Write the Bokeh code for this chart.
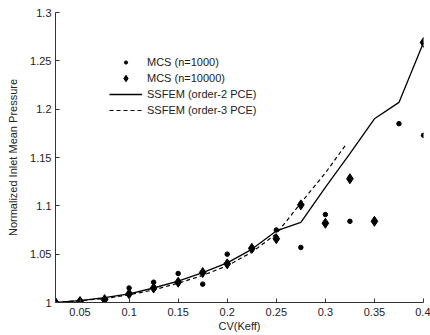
from bokeh.plotting import figure
from bokeh.models import Range1d, Legend, LegendItem, FixedTicker
from bokeh.embed import file_html
from bokeh.resources import INLINE

# --- data ---
cv = [0.025, 0.05, 0.075, 0.1, 0.125, 0.15, 0.175, 0.2, 0.225, 0.25, 0.275, 0.3, 0.325, 0.35, 0.375, 0.4]
ssfem2 = [1.000, 1.002, 1.005, 1.009, 1.015, 1.022, 1.031, 1.041, 1.055, 1.074, 1.083, 1.119, 1.154, 1.190, 1.207, 1.269]

cv3 = [0.025, 0.05, 0.075, 0.1, 0.125, 0.15, 0.175, 0.2, 0.225, 0.25, 0.275, 0.3, 0.32]
ssfem3 = [1.000, 1.002, 1.004, 1.008, 1.013, 1.020, 1.028, 1.038, 1.052, 1.071, 1.103, 1.134, 1.162]

cv_mcs1k = [0.025, 0.05, 0.075, 0.1, 0.125, 0.15, 0.175, 0.2, 0.225, 0.25, 0.275, 0.3, 0.325, 0.375, 0.4]
mcs1k = [1.000, 1.002, 1.003, 1.015, 1.021, 1.030, 1.019, 1.050, 1.055, 1.075, 1.057, 1.091, 1.084, 1.185, 1.173]

cv_mcs10k = [0.025, 0.05, 0.075, 0.1, 0.125, 0.15, 0.175, 0.2, 0.225, 0.25, 0.275, 0.3, 0.325, 0.35, 0.4]
mcs10k = [1.000, 1.001, 1.003, 1.009, 1.015, 1.021, 1.031, 1.040, 1.056, 1.066, 1.101, 1.082, 1.128, 1.084, 1.269]

x_ticks = [0.05, 0.1, 0.15, 0.2, 0.25, 0.3, 0.35, 0.4]
y_ticks = [1.0, 1.05, 1.1, 1.15, 1.2, 1.25, 1.3]

FONT = "Liberation Sans"
TXT = "#222222"

p = figure(width=430, height=335, output_backend="svg", toolbar_location=None,
           x_range=Range1d(0.025, 0.4), y_range=Range1d(1.0, 1.3),
           min_border_left=55, min_border_right=7, min_border_top=12, min_border_bottom=33)
p.outline_line_color = None
p.grid.visible = False
p.background_fill_color = "white"
p.border_fill_color = "white"

r2 = p.line(cv, ssfem2, line_color="black", line_width=1.3)
r3 = p.line(cv3, ssfem3, line_color="black", line_width=1.2, line_dash="4 3")
rd = p.scatter(cv_mcs1k, mcs1k, marker="circle", size=4.5, fill_color="black", line_color="black")
rk = p.scatter(cv_mcs10k, mcs10k, marker="diamond", size=10, fill_color="black", line_color="black")

for ax in (p.xaxis[0], p.yaxis[0]):
    ax.axis_line_color = "#333333"
    ax.major_tick_line_color = "#333333"
    ax.major_tick_in = 4
    ax.major_tick_out = 0
    ax.minor_tick_in = 0
    ax.minor_tick_out = 0
    ax.major_label_text_font = FONT
    ax.major_label_text_font_size = "11px"
    ax.major_label_text_color = TXT
    ax.axis_label_text_font = FONT
    ax.axis_label_text_font_size = "11px"
    ax.axis_label_text_font_style = "normal"
    ax.axis_label_text_color = TXT

p.xaxis.ticker = FixedTicker(ticks=x_ticks)
p.yaxis.ticker = FixedTicker(ticks=y_ticks)
p.xaxis.major_label_overrides = {t: f"{t:g}" for t in x_ticks}
p.yaxis.major_label_overrides = {t: f"{t:g}" for t in y_ticks}
p.xaxis.axis_label = "CV(Keff)"
p.yaxis.axis_label = "Normalized Inlet Mean Pressure"
p.xaxis.major_label_standoff = 5
p.xaxis.axis_label_standoff = 1
p.yaxis.major_label_standoff = 4
p.yaxis.axis_label_standoff = 8


def style_legend(lg, gh):
    lg.border_line_alpha = 0
    lg.background_fill_alpha = 0
    lg.margin = 0
    lg.padding = 0
    lg.spacing = 0
    lg.glyph_width = 33
    lg.glyph_height = gh
    lg.label_height = 16
    lg.label_standoff = 5
    lg.label_text_font = FONT
    lg.label_text_font_size = "11px"
    lg.label_text_color = TXT


# small-dot entry: a smaller glyph box gives a smaller marker
legend_a = Legend(items=[LegendItem(label="MCS (n=1000)", renderers=[rd])],
                  location=(54, 232))
style_legend(legend_a, 8)
legend_b = Legend(items=[
    LegendItem(label="MCS (n=10000)", renderers=[rk]),
    LegendItem(label="SSFEM (order-2 PCE)", renderers=[r2]),
    LegendItem(label="SSFEM (order-3 PCE)", renderers=[r3]),
], location=(54, 184))
style_legend(legend_b, 16)
p.add_layout(legend_a, "center")
p.add_layout(legend_b, "center")

open("out.html", "w").write(file_html(p, INLINE))
